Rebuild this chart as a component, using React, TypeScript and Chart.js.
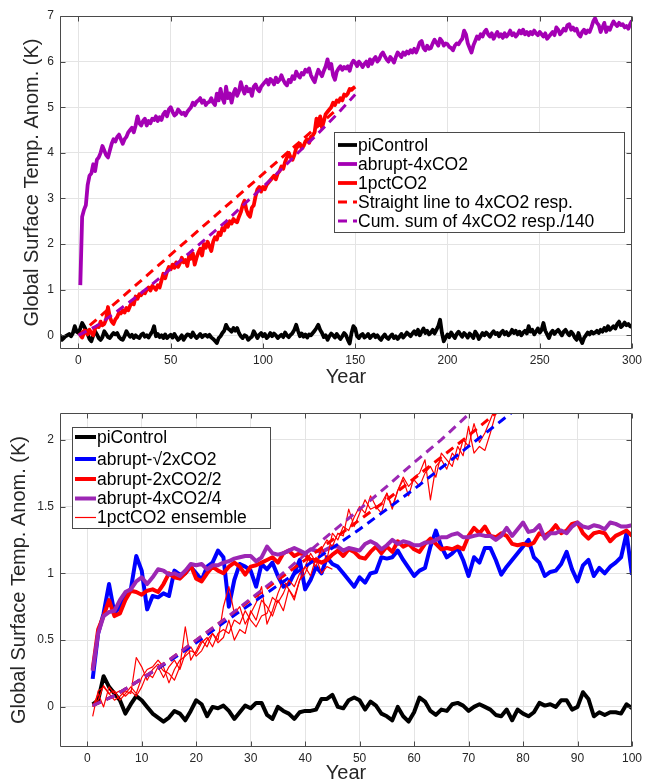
import { useEffect, useRef } from "react";
import { Chart, registerables } from "chart.js";

Chart.register(...registerables);

const FONT = "'Liberation Sans', Arial, Helvetica, sans-serif";
const AXIS_COLOR = "#262626";
const GRID_COLOR = "#e4e4e4";

// ---------------- Top panel data ----------------
const topXTicks = [0, 50, 100, 150, 200, 250, 300];
const topYTicks = [0, 1, 2, 3, 4, 5, 6, 7];
const topLabels = [
  "piControl",
  "abrupt-4xCO2",
  "1pctCO2",
  "Straight line to 4xCO2 resp.",
  "Cum. sum of 4xCO2 resp./140",
];

const topPiControlStart = -10;
const topPiControl = [
  0.01, -0.1, -0.06, -0.02, 0.0, 0.03, -0.02, 0.05, 0.2, 0.08,
  0.05, 0.15, 0.27, 0.2, 0.12, 0.02, -0.08, -0.13, 0.0, 0.09,
  0.02, -0.06, -0.1, -0.04, 0.09, 0.03, -0.04, -0.06, 0.0, 0.05,
  0.02, 0.05, -0.04, -0.08, -0.1, -0.02, 0.09, 0.02, -0.03, 0.01,
  -0.06, 0.0, -0.04, -0.06, 0.01, 0.04, -0.03, 0.0, -0.05, 0.02,
  0.08, 0.2, -0.02, 0.03, -0.04, 0.0, -0.06, 0.02, -0.06, -0.02,
  0.01, -0.05, 0.03, -0.04, -0.1, -0.06, 0.0, -0.1, -0.03, 0.02,
  0.01, -0.04, 0.06, -0.01, -0.06, -0.02, 0.03, -0.04, 0.0, 0.01,
  -0.03, 0.01, -0.05, -0.08, -0.12, -0.17, -0.06, -0.02, 0.05, 0.1,
  0.23, 0.15, 0.12, 0.08, 0.16, 0.1, 0.16, 0.05, -0.02, -0.06,
  0.0, -0.02, -0.1, -0.06, -0.03, 0.09, 0.02, -0.06, 0.01, 0.05,
  -0.02, 0.03, -0.06, -0.02, 0.05, -0.02, 0.04, 0.0, -0.06, -0.02,
  0.01, -0.04, 0.06, 0.0, -0.04, 0.01, 0.05, 0.12, 0.23, 0.1,
  -0.02, 0.04, -0.03, 0.02, -0.05, 0.02, 0.0, 0.05, 0.1, 0.16,
  0.23, 0.12, 0.05, -0.04, 0.0, -0.1, -0.02, 0.04, 0.0, -0.05,
  0.03, -0.03, -0.08, -0.02, 0.05, 0.0, -0.1, -0.18, 0.05, 0.2,
  0.15, -0.02, -0.06, 0.0, 0.03, -0.05, -0.02, 0.03, -0.06, -0.01,
  0.02, -0.04, 0.0, -0.06, -0.1, -0.03, 0.02, -0.05, -0.08, -0.02,
  0.02, -0.06, -0.02, -0.08, -0.03, 0.03, -0.05, 0.0, 0.06, 0.02,
  -0.02, 0.04, 0.09, 0.02, 0.12, 0.0, 0.08, 0.15, 0.05, 0.1,
  0.02, 0.06, 0.12, 0.04, 0.12, 0.2, 0.34, 0.05, -0.13, -0.05,
  0.02, -0.04, 0.06, 0.0, -0.06, 0.03, 0.08, 0.02, -0.03, 0.05,
  0.01, -0.05, 0.04, 0.0, -0.06, 0.08, 0.02, -0.08, -0.02, 0.05,
  0.0, 0.06, 0.02, -0.03, 0.04, 0.09, 0.03, 0.05, -0.02, 0.06,
  0.1, 0.02, 0.07, 0.0, 0.04, 0.12, 0.05, 0.1, 0.02, 0.08,
  0.0, 0.06, 0.1, 0.04, 0.2, 0.08, 0.12, 0.02, 0.08, 0.15,
  0.06, 0.12, 0.27, 0.1, 0.02, -0.06, 0.05, 0.1, 0.03, 0.08,
  0.12, 0.06, 0.0, 0.08, 0.12, 0.05, 0.0, 0.08, 0.03, -0.05,
  -0.1, 0.05, -0.08, -0.17, -0.06, 0.0, 0.06, 0.02, 0.08, 0.04,
  0.06, 0.1, 0.05, 0.12, 0.08, 0.16, 0.1, 0.2, 0.12, 0.16,
  0.2, 0.15, 0.25, 0.3, 0.18, 0.22, 0.28, 0.22, 0.25, 0.2, 0.18,
];

const abrupt4xStart = 1;
const abrupt4x = [
  1.1, 2.6, 2.75, 2.85, 3.3, 3.5, 3.55, 3.75, 3.6, 3.85,
  3.9, 4.0, 4.15, 4.05, 3.95, 3.9, 4.05, 4.2, 4.3, 4.25,
  4.35, 4.4, 4.3, 4.2, 4.3, 4.35, 4.45, 4.5, 4.55, 4.45,
  4.6, 4.8, 4.65, 4.6, 4.7, 4.75, 4.6, 4.7, 4.65, 4.75,
  4.72, 4.8, 4.7, 4.78, 4.72, 4.85, 4.9, 4.8, 4.95, 5.0,
  4.9, 4.82, 4.85, 4.95, 4.9, 4.85, 4.88, 4.82, 4.9, 4.95,
  5.0, 5.1, 5.05, 5.12, 5.15, 5.2, 5.1, 5.15, 5.05, 5.1,
  5.12, 5.2, 5.1, 5.05, 5.3, 5.15, 5.4, 5.2, 5.1, 5.45,
  5.2, 5.3, 5.1, 5.3, 5.4, 5.25, 5.35, 5.55, 5.4, 5.3,
  5.45, 5.35, 5.4, 5.25, 5.45, 5.5, 5.4, 5.35, 5.45, 5.5,
  5.55, 5.6, 5.5, 5.62, 5.58, 5.5, 5.65, 5.55, 5.6, 5.7,
  5.6, 5.52, 5.48, 5.6, 5.55, 5.68, 5.62, 5.78, 5.7, 5.65,
  5.75, 5.72, 5.82, 5.78, 5.85, 5.7, 5.62, 5.55, 5.7, 5.82,
  5.75, 5.68, 5.8, 5.9, 6.05, 5.85, 5.95, 5.7, 5.6, 5.78,
  5.85, 5.9, 5.82, 5.88, 5.85, 5.9, 5.8, 5.95, 6.02, 5.98,
  5.9, 6.0, 5.95, 5.88, 5.95, 6.0, 5.9, 6.05, 5.95, 6.05,
  6.1, 6.0, 6.05, 6.15, 6.2, 6.12, 6.05, 6.0, 6.1, 6.05,
  5.98, 6.1, 6.2, 6.15, 6.1, 6.2, 6.15, 6.22, 6.18, 6.25,
  6.2, 6.28, 6.2, 6.3, 6.42, 6.45, 6.3, 6.25, 6.35, 6.28,
  6.3, 6.4, 6.48, 6.42, 6.35, 6.5, 6.45, 6.35, 6.4, 6.38,
  6.32, 6.3, 6.25, 6.35, 6.4, 6.38, 6.45, 6.5, 6.68, 6.6,
  6.4, 6.3, 6.2, 6.35, 6.45, 6.55, 6.5, 6.6, 6.55, 6.65,
  6.7, 6.6, 6.55, 6.62, 6.5, 6.58, 6.65, 6.55, 6.6, 6.52,
  6.62, 6.55, 6.6, 6.68, 6.58, 6.62, 6.55, 6.6, 6.68, 6.62,
  6.7, 6.6, 6.65, 6.58, 6.65, 6.6, 6.68, 6.62, 6.58, 6.65,
  6.6, 6.55, 6.62, 6.5, 6.55, 6.6, 6.65, 6.58, 6.75, 6.7,
  6.6, 6.65, 6.72, 6.68, 6.8, 6.82, 6.7, 6.75, 6.68, 6.72,
  6.6, 6.55, 6.65, 6.7, 6.62, 6.68, 6.65, 6.75, 6.88, 6.95,
  6.85, 6.8, 6.65, 6.75, 6.85, 6.65, 6.75, 6.7, 6.8, 6.88,
  6.82, 6.78, 6.85, 6.8, 6.82, 6.75, 6.78, 6.72, 6.82, 6.9,
];

const pct1Start = 1;
const pct1 = [
  0.0, -0.05, 0.05, 0.1, 0.02, 0.12, 0.05, 0.0, 0.15, 0.2,
  0.18, 0.3, 0.22, 0.25, 0.35, 0.62, 0.4, 0.3, 0.25, 0.35,
  0.4, 0.5, 0.48, 0.55, 0.5, 0.6, 0.55, 0.65, 0.72, 0.68,
  0.85, 0.8, 0.9, 0.88, 0.95, 0.92, 1.0, 1.05, 0.98, 1.08,
  1.05, 1.0, 1.1, 1.05, 1.2, 1.35, 1.25, 1.4, 1.5, 1.45,
  1.55, 1.48, 1.6, 1.5, 1.58, 1.7, 1.6, 1.65, 1.52, 1.75,
  1.68, 1.8, 1.55, 1.7, 1.82, 1.9, 1.75, 2.0, 1.92, 2.05,
  1.95, 1.85, 2.05, 2.15, 2.1, 2.25, 2.2, 2.35, 2.3, 2.45,
  2.38, 2.5, 2.45, 2.55, 2.5, 2.48, 2.6, 2.7, 2.85, 2.95,
  2.75, 2.65, 2.6, 2.8, 2.85, 3.05, 3.2, 3.25, 3.15, 3.25,
  3.2, 3.3, 3.35, 3.4, 3.45, 3.5, 3.42, 3.55, 3.6, 3.7,
  3.65, 3.8, 3.9, 4.0, 3.9, 3.85, 3.95, 4.1, 4.15, 4.2,
  4.1, 4.15, 4.25, 4.3, 4.22, 4.35, 4.38, 4.45, 4.75, 4.6,
  4.8, 4.55, 4.7, 4.85, 4.9, 4.95, 5.0, 5.1, 5.05, 5.15,
  5.12, 5.2, 5.15, 5.28, 5.25, 5.3, 5.4, 5.38, 5.42, 5.45,
];

const straightYears = [0, 140];
const straightTemps = [0, 4.95];

const cumSumYears = [0, 10, 20, 30, 40, 50, 60, 70, 80, 90, 100, 110, 120, 130, 140, 150];
const cumSumTemps = [0, 0.21, 0.5, 0.8, 1.12, 1.46, 1.8, 2.15, 2.5, 2.88, 3.25, 3.64, 4.04, 4.43, 4.84, 5.28];

// ---------------- Bottom panel data ----------------
const botXTicks = [0, 10, 20, 30, 40, 50, 60, 70, 80, 90, 100];
const botYTicks = [0, 0.5, 1, 1.5, 2];
const botLabels = [
  "piControl",
  "abrupt-√2xCO2",
  "abrupt-2xCO2/2",
  "abrupt-4xCO2/4",
  "1pctCO2 ensemble",
];

const botStart = 1;
const botPiControl = [
  0.02, 0.05, 0.23, 0.15, 0.1, 0.05, -0.05, 0.02, 0.08, 0.05,
  0.0, -0.05, -0.08, -0.11, -0.08, -0.03, -0.05, -0.1, -0.03, 0.05,
  0.02, -0.07, 0.0, -0.01, 0.01, -0.03, -0.09, -0.04, 0.01, -0.01,
  0.03, 0.03, -0.06, -0.09, 0.0, -0.03, -0.05, -0.09, -0.04, -0.03,
  -0.03, -0.02, 0.06, 0.06, 0.09, 0.0, -0.01, 0.05, 0.07, 0.05,
  -0.02, 0.04, 0.01, -0.05, -0.07, -0.1, 0.0, -0.07, -0.11, -0.04,
  0.07, 0.04, -0.03, -0.06, -0.02, -0.03, 0.02, 0.03, 0.01, -0.03,
  0.0, 0.02, 0.0, -0.02, -0.06, -0.07, -0.02, -0.1, -0.02, -0.05,
  -0.07, -0.04, 0.03, 0.01, 0.02, 0.0, 0.05, 0.05, -0.02, 0.0,
  0.11, 0.06, -0.07, -0.04, -0.06, -0.04, -0.04, -0.05, 0.02, -0.01,
];
const sqrt2x = [
  0.21, 0.55, 0.7, 0.92, 0.7, 0.75, 0.85, 0.88, 1.13, 1.02,
  0.73, 0.83, 0.82, 0.85, 0.83, 1.02, 0.99, 1.0, 1.05, 1.0,
  0.95, 1.05, 1.08, 1.17, 1.12, 0.75, 0.95, 1.07, 1.05, 1.02,
  0.9, 1.07, 1.03, 1.08, 0.98, 0.9, 0.92, 1.0, 1.1, 0.88,
  0.95, 1.05, 1.0, 1.12, 1.07, 1.05, 1.0, 0.95, 0.9, 0.97,
  0.93, 1.0, 1.01, 1.12, 1.11, 1.12, 1.17, 1.1, 1.04, 0.98,
  1.02, 1.04, 1.2, 1.32, 1.2, 1.12, 1.15, 1.19, 1.1, 0.98,
  1.12, 1.08, 1.19, 1.19, 1.1, 0.99, 1.05, 1.1, 1.15, 1.2,
  1.25, 1.12, 1.08, 0.98, 1.01, 1.02, 1.07, 1.16, 1.03, 0.94,
  1.06, 1.1, 0.98, 1.04, 1.0, 1.05, 1.08, 1.12, 1.3, 0.99,
];
const twoX = [
  0.28, 0.58, 0.68, 0.8, 0.68, 0.7, 0.8, 0.87, 0.86, 0.84,
  0.87, 0.88, 0.86, 0.92, 1.0, 0.97, 0.96, 1.0, 1.06, 0.96,
  0.94, 1.0, 1.05, 1.02, 1.0, 1.05, 1.08, 1.05, 0.99, 1.05,
  1.06, 1.08, 1.1, 1.12, 1.08, 1.15, 1.17, 1.13, 1.15, 1.14,
  1.1, 1.1, 1.08, 1.1, 1.14, 1.17, 1.13, 1.18, 1.16, 1.12,
  1.11, 1.16, 1.2, 1.15, 1.2, 1.16, 1.24, 1.2, 1.22, 1.18,
  1.16, 1.22, 1.26, 1.22, 1.18, 1.19, 1.18, 1.2, 1.18, 1.28,
  1.34, 1.3, 1.35, 1.28, 1.27, 1.3, 1.28, 1.22, 1.21, 1.22,
  1.21, 1.23, 1.3, 1.28, 1.31, 1.36, 1.3, 1.32, 1.37, 1.38,
  1.3, 1.26, 1.3, 1.31, 1.3, 1.24, 1.28, 1.3, 1.32, 1.28,
];
const fourX = [
  0.27, 0.55, 0.68, 0.71, 0.72, 0.8, 0.86, 0.88, 0.94, 0.97,
  0.92, 0.97, 1.03, 1.02, 0.99, 1.0, 0.98, 1.02, 1.07, 1.06,
  1.07, 1.03, 1.06, 1.06, 1.08, 1.09, 1.11, 1.12, 1.13, 1.13,
  1.09, 1.12, 1.2, 1.15, 1.14, 1.15, 1.17, 1.19, 1.17, 1.15,
  1.18, 1.17, 1.16, 1.18, 1.2, 1.2, 1.17, 1.19, 1.18, 1.17,
  1.22, 1.24, 1.22, 1.18, 1.21, 1.25, 1.22, 1.24, 1.23, 1.21,
  1.21, 1.23, 1.23, 1.25, 1.27, 1.27, 1.29, 1.3, 1.27, 1.27,
  1.28, 1.29, 1.28, 1.28, 1.25, 1.28, 1.34, 1.28, 1.33, 1.38,
  1.31, 1.32, 1.36, 1.26, 1.3, 1.3, 1.32, 1.3, 1.35, 1.38,
  1.35, 1.34, 1.36, 1.35, 1.33, 1.38, 1.37, 1.35, 1.35, 1.36,
];
const ensembleA = [
  -0.07, 0.12, 0.15, 0.1, 0.05, 0.08, 0.12, 0.1, 0.37, 0.3,
  0.2, 0.28, 0.32, 0.27, 0.25, 0.2, 0.3, 0.6, 0.35, 0.42,
  0.5, 0.45, 0.55, 0.5, 0.75, 0.9, 0.7, 0.75, 0.62, 0.7,
  0.78, 0.9, 0.62, 0.72, 0.85, 0.95, 0.88, 0.82, 0.95, 1.05,
  0.98, 1.12, 1.0, 1.05, 1.03,
];
const ensembleB = [
  0.02, 0.05, 0.16, 0.1, 0.12, 0.05, 0.1, 0.15, 0.1, 0.22,
  0.28, 0.3, 0.35, 0.3, 0.18, 0.28, 0.35, 0.38, 0.42, 0.4,
  0.48, 0.52, 0.45, 0.55, 0.58, 0.55, 0.65, 0.62, 0.72, 0.65,
  0.6, 0.68, 0.7, 0.82, 0.78, 0.85, 0.95, 0.9, 1.0, 1.05,
  1.15, 1.08, 1.18, 1.25, 1.2, 1.3, 1.28, 1.48, 1.35, 1.45,
  1.55, 1.48, 1.5, 1.45, 1.6, 1.5, 1.62, 1.7, 1.58, 1.72,
  1.75, 1.85, 1.55, 1.8, 1.85, 1.78, 1.9, 1.85, 2.0, 1.95,
  2.12, 1.98, 2.05, 2.15, 2.25,
];
const ensembleC = [
  0.0, 0.1, 0.0, 0.15, 0.1, 0.12, 0.08, 0.12, 0.08, 0.15,
  0.25, 0.22, 0.3, 0.22, 0.3, 0.35, 0.28, 0.4, 0.45, 0.38,
  0.42, 0.5, 0.55, 0.48, 0.52, 0.65, 0.5, 0.58, 0.55, 0.72,
  0.65, 0.8, 0.75, 0.68, 0.8, 0.72, 0.88, 0.8, 0.95, 1.0,
  1.1, 1.05, 1.2, 1.1, 1.3, 1.25, 1.35, 1.32, 1.42, 1.5,
  1.45, 1.58, 1.5, 1.52, 1.6, 1.48, 1.62, 1.72, 1.65, 1.7,
  1.65, 1.75, 1.8, 1.72, 1.9, 1.85, 1.8, 1.95, 1.88, 2.1,
  1.9, 1.95, 1.92, 2.05, 2.2, 2.3,
];

const dashYears = [1, 5, 10, 15, 20, 25, 30, 35, 40, 45, 50, 55, 60, 65, 70, 75, 80];
const dashFourX = [0.01, 0.084, 0.21, 0.35, 0.5, 0.65, 0.81, 0.97, 1.14, 1.31, 1.48, 1.65, 1.83, 2.0, 2.19, 2.37, 2.55];
const dashTwoX = [0.01, 0.084, 0.21, 0.35, 0.5, 0.65, 0.8, 0.95, 1.1, 1.25, 1.4, 1.55, 1.71, 1.87, 2.03, 2.2, 2.37];
const dashSqrt2x = [0.01, 0.084, 0.21, 0.34, 0.48, 0.63, 0.77, 0.91, 1.05, 1.19, 1.33, 1.48, 1.63, 1.79, 1.95, 2.11, 2.27];

// ---------------- helpers ----------------
const series = (start: number, values: number[]) => values.map((y, i) => ({ x: start + i, y }));
const pairs = (xs: number[], ys: number[]) => xs.map((x, i) => ({ x, y: ys[i] }));

const PURPLE_TOP = "#a400b4";
const PURPLE_BOT = "#9c27b4";

function solid(label: string, data: any[], color: string, width: number, order: number) {
  return { label, data, borderColor: color, borderWidth: width, borderDash: [], order, pointRadius: 0, fill: false, borderJoinStyle: "round", borderCapStyle: "butt" };
}
function dashed(label: string, data: any[], color: string, width: number, order: number) {
  return { label, data, borderColor: color, borderWidth: width, borderDash: [9, 6], order, pointRadius: 0, fill: false, borderJoinStyle: "miter", borderCapStyle: "butt" };
}

const boxPlugin = {
  id: "matlabBox",
  afterDatasetsDraw(chart: any, _args: any, opts: any) {
    const { ctx, chartArea: a } = chart;
    const xs = chart.scales.x;
    const ys = chart.scales.y;
    const L = Math.round(a.left) + 0.5;
    const R = Math.round(a.right) - 0.5;
    const T = Math.round(a.top) + 0.5;
    const B = Math.round(a.bottom) - 0.5;
    const tl = 5;
    ctx.save();
    ctx.strokeStyle = "#4a4a4a";
    ctx.lineWidth = 1;
    ctx.setLineDash([]);
    ctx.beginPath();
    xs.ticks.forEach((t: any) => {
      const p = Math.round(xs.getPixelForValue(t.value)) + 0.5;
      ctx.moveTo(p, B);
      ctx.lineTo(p, B - tl);
      ctx.moveTo(p, T);
      ctx.lineTo(p, T + tl);
    });
    ys.ticks.forEach((t: any) => {
      const p = Math.round(ys.getPixelForValue(t.value)) + 0.5;
      ctx.moveTo(L, p);
      ctx.lineTo(L + tl, p);
      ctx.moveTo(R, p);
      ctx.lineTo(R - tl, p);
    });
    ctx.rect(L, T, R - L, B - T);
    ctx.stroke();

    const lg = opts.legend;
    if (lg) {
      ctx.fillStyle = "#ffffff";
      ctx.fillRect(lg.left, lg.top, lg.width, lg.height);
      ctx.strokeStyle = "#4a4a4a";
      ctx.lineWidth = 1;
      ctx.strokeRect(lg.left + 0.5, lg.top + 0.5, lg.width, lg.height);
      const items = chart.data.datasets.filter((d: any) => d.label);
      ctx.font = `${lg.fontSize}px ${FONT}`;
      ctx.textBaseline = "middle";
      ctx.textAlign = "left";
      items.forEach((d: any, i: number) => {
        const y = lg.top + lg.rows[i];
        ctx.beginPath();
        ctx.setLineDash(d.borderDash || []);
        ctx.strokeStyle = d.borderColor;
        ctx.lineWidth = d.borderWidth;
        ctx.moveTo(lg.left + lg.sample0, y);
        ctx.lineTo(lg.left + lg.sample1, y);
        ctx.stroke();
        ctx.setLineDash([]);
        ctx.fillStyle = "#000000";
        ctx.fillText(d.label, lg.left + lg.textX, y + 1);
      });
    }
    ctx.restore();
  },
};

function axes(xMin: number, xMax: number, xTicks: number[], yMin: number, yMax: number, yTicks: number[], xH: number, xTitlePad: number, yTitlePad: number) {
  const tickFont = { size: 12, family: FONT };
  const titleFont = { size: 20, family: FONT };
  return {
    x: {
      type: "linear",
      min: xMin,
      max: xMax,
      afterBuildTicks: (s: any) => {
        s.ticks = xTicks.map((v) => ({ value: v }));
      },
      afterFit: (s: any) => {
        s.height = xH;
      },
      grid: { color: GRID_COLOR, drawTicks: false, lineWidth: 1 },
      border: { display: false },
      ticks: { padding: 4, color: AXIS_COLOR, font: tickFont, maxRotation: 0, autoSkip: false, callback: (v: any) => String(v) },
      title: { display: true, text: "Year", color: AXIS_COLOR, font: titleFont, padding: { top: 0, bottom: xTitlePad } },
    },
    y: {
      type: "linear",
      min: yMin,
      max: yMax,
      afterBuildTicks: (s: any) => {
        s.ticks = yTicks.map((v) => ({ value: v }));
      },
      afterFit: (s: any) => {
        s.width = 60;
      },
      grid: { color: GRID_COLOR, drawTicks: false, lineWidth: 1 },
      border: { display: false },
      ticks: { padding: 6, color: AXIS_COLOR, font: tickFont, autoSkip: false, callback: (v: any) => String(v) },
      title: { display: true, text: "Global Surface Temp. Anom. (K)", color: AXIS_COLOR, font: titleFont, padding: { top: yTitlePad, bottom: 0 } },
    },
  };
}

function topConfig(): any {
  const ds = [
    solid(topLabels[0], series(topPiControlStart, topPiControl), "#000000", 3.8, 5),
    solid(topLabels[1], series(abrupt4xStart, abrupt4x), PURPLE_TOP, 3.8, 4),
    solid(topLabels[2], series(pct1Start, pct1), "#ff0000", 3.8, 3),
    dashed(topLabels[3], pairs(straightYears, straightTemps), "#ff0000", 3, 2),
    dashed(topLabels[4], pairs(cumSumYears, cumSumTemps), PURPLE_TOP, 3, 1),
  ];
  return {
    type: "line",
    data: { datasets: ds },
    options: {
      responsive: false,
      maintainAspectRatio: false,
      animation: false,
      events: [],
      parsing: true,
      elements: { point: { radius: 0 }, line: { tension: 0 } },
      layout: { padding: { top: 16, right: 8, left: 0, bottom: 0 } },
      plugins: {
        legend: { display: false },
        tooltip: { enabled: false },
        matlabBox: {
          legend: { left: 334, top: 132, width: 290, height: 100, fontSize: 17.5, rows: [13, 32, 51, 70, 89], sample0: 4, sample1: 23, textX: 24 },
        },
      },
      scales: axes(-10, 300, topXTicks, -0.3, 7, topYTicks, 46, 6, 20),
    },
    plugins: [boxPlugin],
  };
}

function bottomConfig(): any {
  const ds = [
    solid(botLabels[0], series(botStart, botPiControl), "#000000", 4, 9),
    solid(botLabels[1], series(botStart, sqrt2x), "#0000ff", 4, 8),
    solid(botLabels[2], series(botStart, twoX), "#ff0000", 4, 7),
    solid(botLabels[3], series(botStart, fourX), PURPLE_BOT, 4, 6),
    solid(botLabels[4], series(botStart, ensembleA), "#ff0000", 1.2, 5),
    solid("", series(botStart, ensembleB), "#ff0000", 1.2, 4),
    solid("", series(botStart, ensembleC), "#ff0000", 1.2, 3),
    dashed("", pairs(dashYears, dashSqrt2x), "#0000ff", 3, 2),
    dashed("", pairs(dashYears, dashTwoX), "#ff0000", 3, 1),
    dashed("", pairs(dashYears, dashFourX), PURPLE_BOT, 3, 0),
  ];
  return {
    type: "line",
    data: { datasets: ds },
    options: {
      responsive: false,
      maintainAspectRatio: false,
      animation: false,
      events: [],
      elements: { point: { radius: 0 }, line: { tension: 0 } },
      layout: { padding: { top: 18, right: 8, left: 0, bottom: 0 } },
      plugins: {
        legend: { display: false },
        tooltip: { enabled: false },
        matlabBox: {
          legend: { left: 72, top: 32, width: 198, height: 101, fontSize: 17.5, rows: [10, 32, 52, 71.5, 90.5], sample0: 3, sample1: 24, textX: 25 },
        },
      },
      scales: axes(-5, 100, botXTicks, -0.3, 2.2, botYTicks, 40, 2, 7.6),
    },
    plugins: [boxPlugin],
  };
}

export default function App() {
  const topRef = useRef<HTMLCanvasElement | null>(null);
  const botRef = useRef<HTMLCanvasElement | null>(null);

  useEffect(() => {
    Chart.defaults.font.family = FONT;
    const c1 = new Chart(topRef.current as HTMLCanvasElement, topConfig());
    const c2 = new Chart(botRef.current as HTMLCanvasElement, bottomConfig());
    return () => {
      c1.destroy();
      c2.destroy();
    };
  }, []);

  return (
    <div style={{ position: "absolute", left: 0, top: 0, width: 646, height: 782, overflow: "hidden", background: "#fff" }}>
      <canvas ref={topRef} width={646} height={395} style={{ position: "absolute", left: 0, top: 0, width: 646, height: 395 }} />
      <canvas ref={botRef} width={646} height={392} style={{ position: "absolute", left: 0, top: 395, width: 646, height: 392 }} />
    </div>
  );
}
